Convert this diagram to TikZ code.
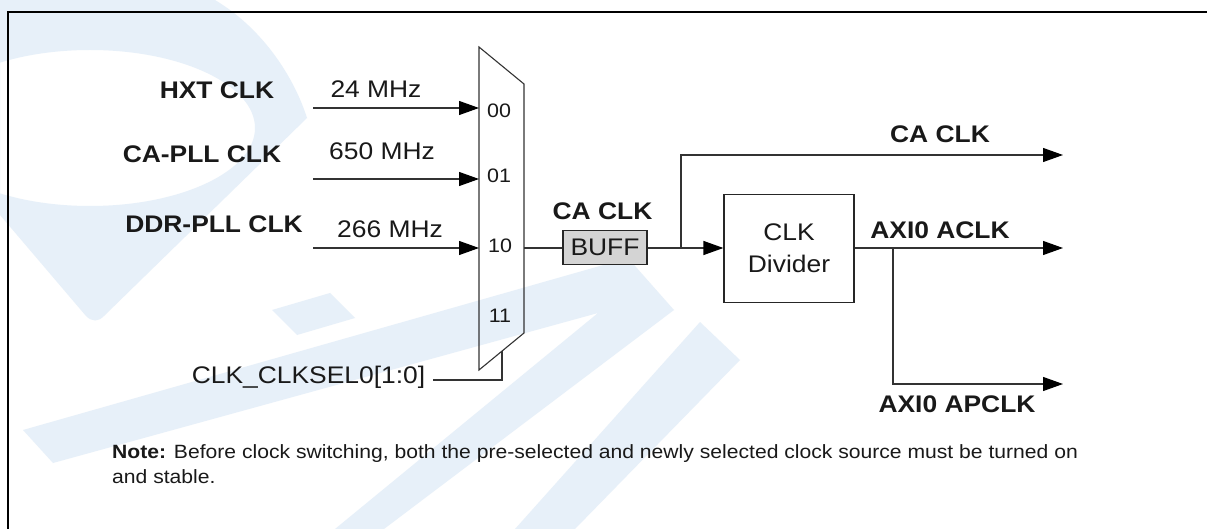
\documentclass[tikz,border=0pt]{standalone}
\usepackage{fontspec}
\setmainfont{Liberation Sans}[FakeStretch=1.1]
\usetikzlibrary{arrows.meta}
\definecolor{wm}{RGB}{231,240,249}
\definecolor{buffgray}{RGB}{212,212,212}
\definecolor{ink}{RGB}{25,25,25}
\begin{document}
\begin{tikzpicture}[x=1pt,y=-1pt,
  lbl/.style={font=\fontsize{24}{28}\selectfont\bfseries, inner sep=0pt, anchor=base, text=ink},
  val/.style={font=\fontsize{24}{28}\selectfont, inner sep=0pt, anchor=base, text=ink},
  port/.style={font=\fontsize{19.5}{22}\selectfont, inner sep=0pt, anchor=base, text=ink},
  notetext/.style={font=\fontsize{19.2}{25}\selectfont, inner sep=0pt, anchor=base west, text=ink},
  wire/.style={line width=1.2pt, draw=black!80},
  arr/.style={wire, -{Triangle[length=20pt,width=14pt,color=black]}},
  blockbox/.style={draw=black!85, line width=1.2pt, inner sep=0pt, align=center,
    font=\fontsize{24}{32}\selectfont, text=ink},
]
\useasboundingbox (0,0) rectangle (1207,529);
\fill[white] (0,0) rectangle (1207,529);

% watermark
\fill[wm,even odd rule] (0,0) -- (215,0) .. controls (265,30) and (295,80) .. (307,118)
  -- (104,316) .. controls (98,322) and (92,322) .. (86,316) -- (0,215) -- cycle
  (90,128) ellipse [x radius=165pt, y radius=78pt];
\fill[wm] (272,310) -- (330,293) -- (355,318) -- (297,335) -- cycle;
\fill[wm] (23,430) -- (628,258) -- (674,310) -- (384,529) -- (335,529) -- (598,313) -- (53,463) -- cycle;
\fill[wm] (700,322) -- (740,360) -- (575,529) -- (515,529) -- cycle;

% frame
\draw[line width=2pt, black] (8,529) -- (8,12) -- (1207,12);

% multiplexer
\coordinate (mTL) at (479,47);
\coordinate (mTR) at (524,84);
\coordinate (mBR) at (524,333);
\coordinate (mBL) at (479,370);
\draw[line width=1.1pt, draw=black!80] (mTL) -- (mTR) -- (mBR) -- (mBL) -- cycle;

% inputs
\node[lbl] (hxt) at (217,99) {HXT CLK};
\node[lbl] (capll) at (202,163) {CA-PLL CLK};
\node[lbl] (ddrpll) at (214,233) {DDR-PLL CLK};
\node[val] (f24) at (376,98) {24 MHz};
\node[val] (f650) at (382,160) {650 MHz};
\node[val] (f266) at (390,238) {266 MHz};

\coordinate (s00) at (313,108); \coordinate (m00) at (479,108);
\coordinate (s01) at (313,179); \coordinate (m01) at (479,179);
\coordinate (s10) at (313,248); \coordinate (m10) at (479,248);
\draw[arr] (s00) -- (m00);
\draw[arr] (s01) -- (m01);
\draw[arr] (s10) -- (m10);

\node[port] (p00) at (499,118) {00};
\node[port] (p01) at (499,183) {01};
\node[port] (p10) at (500,253) {10};
\node[port] (p11) at (500,322) {11};

% select
\node[val] (sel) at (308.5,383) {CLK\_CLKSEL0[1:0]};
\coordinate (selA) at (433,380);
\coordinate (selB) at (502,351);
\draw[wire] (selA) -| (selB);

% buffer and divider
\coordinate (mout) at (524,248);
\node[blockbox, fill=buffgray, minimum width=84pt, minimum height=33.5pt] (buff) at (605,247.5) {BUFF};
\node[lbl] (caclk1) at (602.5,220) {CA CLK};
\node[blockbox, minimum width=130pt, minimum height=108pt] (div) at (789,248.5) {CLK\\Divider};
\draw[wire] (mout) -- (mout -| buff.west);
\draw[arr] (buff.east |- mout) -- (div.west |- mout);

% outputs
\coordinate (br1) at (681,248);
\coordinate (oCA) at (1063,155);
\coordinate (oACLK) at (1063,248);
\coordinate (br2) at (893,248);
\coordinate (oAP) at (1063,384);
\draw[arr] (br1) |- (oCA);
\draw[arr] (div.east |- oACLK) -- (oACLK);
\draw[arr] (br2) |- (oAP);
\node[lbl] (caclk2) at (940,143) {CA CLK};
\node[lbl] (aclk) at (940,239) {AXI0 ACLK};
\node[lbl] (apclk) at (957,412) {AXI0 APCLK};

% note
\node[notetext] (note1) at (112,458) {\textbf{Note:} Before clock switching, both the pre-selected and newly selected clock source must be turned on};
\node[notetext] (note2) at (112,483) {and stable.};
\end{tikzpicture}
\end{document}
